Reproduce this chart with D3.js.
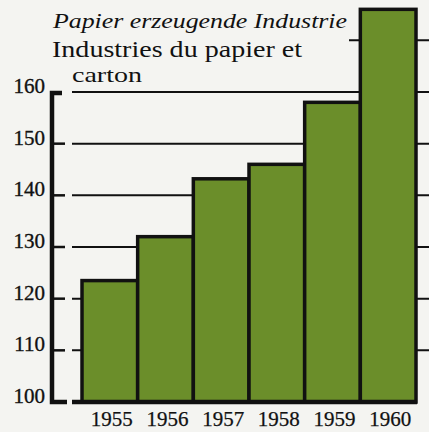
<!DOCTYPE html>
<html><head><meta charset="utf-8">
<script src="https://cdn.jsdelivr.net/npm/d3@7"></script>
<style>
html,body{margin:0;padding:0;background:#f4f4f1;}
svg{display:block;}
text{font-family:"Liberation Serif","Times New Roman",serif;fill:#111;}
</style></head>
<body>
<script>
const years = ["1955","1956","1957","1958","1959","1960"];
const values = [123.5, 132, 143.2, 146, 158, 176];
const yTicks = [100,110,120,130,140,150,160];
const gridTicks = [110,120,130,140,150,160,170];
const titleDe = "Papier erzeugende Industrie";
const titleFr1 = "Industries du papier et";
const titleFr2 = "carton";

const W = 429, H = 432;
const svg = d3.select("body").append("svg").attr("width", W).attr("height", H);
svg.append("rect").attr("width", W).attr("height", H).attr("fill", "#f4f4f1");

const y = d3.scaleLinear().domain([100,160]).range([402,92]);
const x = d3.scaleBand().domain(years).range([82,416]).padding(0);
const serif = "'Liberation Serif', 'Times New Roman', serif";

// title
const tg = svg.append("g").attr("font-family", serif);
tg.append("text").attr("x",53).attr("y",28).attr("font-size",22)
  .attr("font-style","italic").attr("textLength",294).attr("lengthAdjust","spacingAndGlyphs").text(titleDe);
tg.append("text").attr("x",52).attr("y",57).attr("font-size",23)
  .attr("textLength",250).attr("lengthAdjust","spacingAndGlyphs").text(titleFr1);
tg.append("text").attr("x",72).attr("y",82).attr("font-size",22)
  .attr("textLength",70).attr("lengthAdjust","spacingAndGlyphs").text(titleFr2);

// gridlines
const titleEnd = 53 + 294 + 2;
svg.append("g").selectAll("line").data(gridTicks).join("line")
  .attr("x1", d => d === 170 ? titleEnd : 72)
  .attr("x2", W)
  .attr("y1", d => y(d)).attr("y2", d => y(d))
  .attr("stroke","#111").attr("stroke-width",2);

// short tick dashes
svg.append("g").selectAll("line").data(yTicks.filter(d=>d>100 && d<160)).join("line")
  .attr("x1",54).attr("x2",65)
  .attr("y1", d => y(d)).attr("y2", d => y(d))
  .attr("stroke","#111").attr("stroke-width",2.5);

// bars
svg.append("g").selectAll("rect").data(values).join("rect")
  .attr("x", (d,i) => x(years[i]))
  .attr("y", d => y(d))
  .attr("width", x.bandwidth())
  .attr("height", d => y(100) - y(d))
  .attr("fill","#6b8e2a")
  .attr("stroke","#111").attr("stroke-width",3.5);

// baseline
svg.append("line").attr("x1",72).attr("x2",x.range()[1]+1)
  .attr("y1",y(100)).attr("y2",y(100)).attr("stroke","#111").attr("stroke-width",4.5);

// left axis with corners
svg.append("path")
  .attr("d", `M62,${y(160)+1} H52 V${y(100)} H67`)
  .attr("fill","none").attr("stroke","#111").attr("stroke-width",4.5);

// y labels
svg.append("g").attr("font-family", serif).selectAll("text").data(yTicks).join("text")
  .attr("x",45).attr("y", d => y(d)+1)
  .attr("text-anchor","end").attr("font-size",21)
  .attr("stroke","#111").attr("stroke-width",0.35).text(d => d);

// x labels
svg.append("g").attr("font-family", serif).selectAll("text").data(years).join("text")
  .attr("x", d => x(d) + x.bandwidth()/2 + 2).attr("y", 426)
  .attr("text-anchor","middle").attr("font-size",21)
  .attr("stroke","#111").attr("stroke-width",0.25).text(d => d);
</script>
</body></html>
